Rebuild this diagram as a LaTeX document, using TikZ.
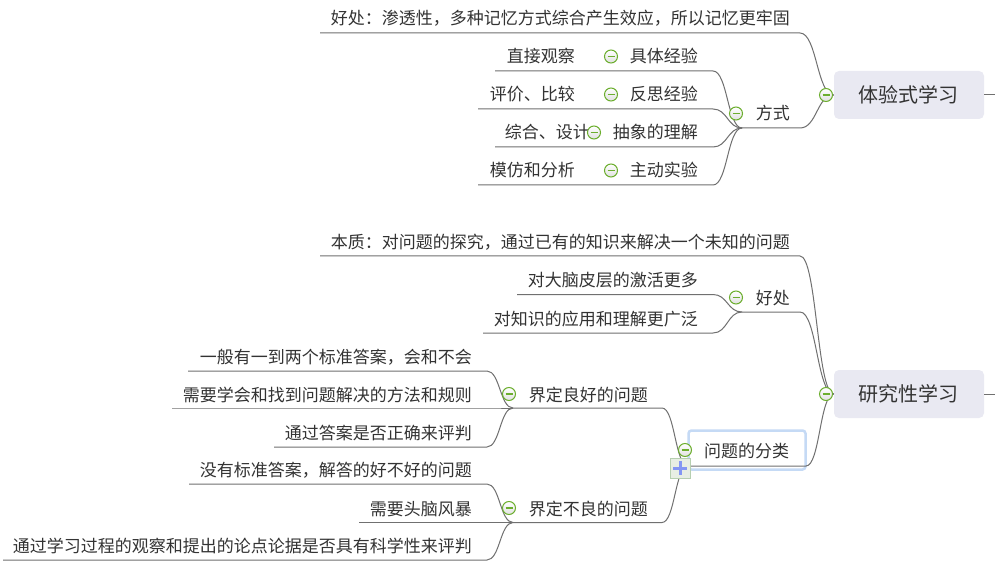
\documentclass[tikz,border=0pt]{standalone}
\usepackage{fontspec}
\setmainfont{Noto Sans CJK SC}
\usetikzlibrary{calc}
\definecolor{txtc}{HTML}{333333}
\definecolor{linec}{HTML}{707070}
\definecolor{greenc}{HTML}{6CAE2E}
\definecolor{rootfill}{HTML}{E9E9F2}
\definecolor{selc}{HTML}{C5DAF5}
\definecolor{plusc}{HTML}{8496F3}
\definecolor{plusfill}{HTML}{E7EEE4}
\definecolor{plusdraw}{HTML}{B6CFB0}
\begin{document}
\begin{tikzpicture}[x=1bp,y=-1bp,
  txt/.style={anchor=base east, inner sep=0pt, text=txtc, font=\fontsize{17bp}{20bp}\selectfont},
  roottxt/.style={anchor=base, inner sep=0pt, text=txtc, font=\fontsize{20bp}{24bp}\selectfont},
  seltxt/.style={anchor=base, inner sep=0pt, text=txtc, font=\fontsize{17bp}{20bp}\selectfont},
  ln/.style={draw=linec, line width=1bp},
  bz/.style={to path={let \p1=(\tikztostart), \p2=(\tikztotarget) in
     .. controls ({(\x1+\x2)/2},\y1) and ({(\x1+\x2)/2},\y2) .. (\tikztotarget)}},
  tog/.style={circle, minimum size=13bp, inner sep=0pt, draw=greenc, line width=1bp,
     top color=white, bottom color=black!12,
     path picture={\draw[greenc, line width=1.3bp]
       ([xshift=3bp]path picture bounding box.west) -- ([xshift=-3bp]path picture bounding box.east);}},
  rootbox/.style={rectangle, rounded corners=5bp, fill=rootfill, minimum width=150bp, minimum height=48bp, inner sep=0pt},
  selbox/.style={rectangle, rounded corners=3bp, draw=selc, fill=white, line width=2.5bp, minimum width=117bp, minimum height=39bp, inner sep=0pt},
  plusbox/.style={rectangle, minimum size=20bp, inner sep=0pt, draw=plusdraw, line width=1bp, fill=plusfill,
     path picture={\draw[plusc, line width=3bp]
       ([xshift=-7bp]path picture bounding box.center) -- ([xshift=7bp]path picture bounding box.center)
       ([yshift=-7bp]path picture bounding box.center) -- ([yshift=7bp]path picture bounding box.center);}}
]
\fill[white] (0,0) rectangle (995,568);
\useasboundingbox (0,0) rectangle (995,568);

% ================= 体验式学习 =================
\node[rootbox] (rA) at (909,95) {};
\node[roottxt] (rAt) at (908,102.6) {体验式学习};
\coordinate (rAo) at (995,95);
\draw[ln] (rA.east) -- (rAo);

\node[txt] (a1) at (790,24.5) {好处：渗透性，多种记忆方式综合产生效应，所以记忆更牢固};
\coordinate (a1L) at (320,33); \coordinate (a1R) at (800,33);
\draw[ln] (a1L) -- (a1R) to[bz] (rA.west);

\node[txt] (a2) at (790,120) {方式};
\coordinate (a2L) at (742,128); \coordinate (a2R) at (800,128);
\draw[ln] (a2L) -- (a2R) to[bz] (rA.west);

\node[txt] (a21) at (698,63) {具体经验};
\node[txt] (a211) at (575,63) {直接观察};
\coordinate (a211L) at (495,71); \coordinate (a211R) at (590,71);
\coordinate (a21L) at (604,71); \coordinate (a21R) at (713,71);
\draw[ln] (a211L) -- (a211R) -- (a21L) -- (a21R) to[bz] (a2L);

\node[txt] (a22) at (698,101) {反思经验};
\node[txt] (a221) at (575,101) {评价、比较};
\coordinate (a221L) at (478,109); \coordinate (a221R) at (590,109);
\coordinate (a22L) at (604,109); \coordinate (a22R) at (713,109);
\draw[ln] (a221L) -- (a221R) -- (a22L) -- (a22R) to[bz] (a2L);

\node[txt] (a23) at (698,139) {抽象的理解};
\node[txt] (a231) at (590,139) {综合、设计};
\coordinate (a231L) at (495,147); \coordinate (a231R) at (585,147);
\coordinate (a23L) at (600,147); \coordinate (a23R) at (713,147);
\draw[ln] (a231L) -- (a231R) -- (a23L) -- (a23R) to[bz] (a2L);

\node[txt] (a24) at (698,177) {主动实验};
\node[txt] (a241) at (575,177) {模仿和分析};
\coordinate (a241L) at (478,185); \coordinate (a241R) at (590,185);
\coordinate (a24L) at (604,185); \coordinate (a24R) at (713,185);
\draw[ln] (a241L) -- (a241R) -- (a24L) -- (a24R) to[bz] (a2L);

\node[tog] (cA) at (826,95) {};
\node[tog] (ca2) at (736,113.5) {};
\node[tog] (ca21) at (611,56.5) {};
\node[tog] (ca22) at (611,94.5) {};
\node[tog] (ca23) at (594,132.5) {};
\node[tog] (ca24) at (611,170.5) {};

% ================= 研究性学习 =================
\node[rootbox] (rB) at (909,394) {};
\node[roottxt] (rBt) at (908,401.6) {研究性学习};
\coordinate (rBo) at (995,394);
\draw[ln] (rB.east) -- (rBo);

\node[txt] (b1) at (790,248.5) {本质：对问题的探究，通过已有的知识来解决一个未知的问题};
\coordinate (b1L) at (320,256); \coordinate (b1R) at (800,256);
\draw[ln] (b1L) -- (b1R) to[bz] (rB.west);

\node[txt] (b2) at (790,304.5) {好处};
\coordinate (b2L) at (742,312); \coordinate (b2R) at (800,312);
\draw[ln] (b2L) -- (b2R) to[bz] (rB.west);

\node[txt] (b21) at (698,287) {对大脑皮层的激活更多};
\coordinate (b21L) at (517,294.5); \coordinate (b21R) at (713,294.5);
\draw[ln] (b21L) -- (b21R) to[bz] (b2L);

\node[txt] (b22) at (698,325.5) {对知识的应用和理解更广泛};
\coordinate (b22L) at (483,333); \coordinate (b22R) at (713,333);
\draw[ln] (b22L) -- (b22R) to[bz] (b2L);

\node[selbox] (b3box) at (747,450) {};
\node[seltxt] (b3) at (746.5,457.5) {问题的分类};
\coordinate (b3L) at (688,466); \coordinate (b3R) at (806,466);
\draw[ln] (b3L) -- (b3R) to[bz] (rB.west);

\node[txt] (b31) at (648,401) {界定良好的问题};
\coordinate (b31L) at (513,408); \coordinate (b31R) at (662,408);
\draw[ln] (b31L) -- (b31R) to[bz] (b3L);

\node[txt] (b311) at (472,363.5) {一般有一到两个标准答案，会和不会};
\coordinate (b311L) at (188,371); \coordinate (b311R) at (487,371);
\draw[ln] (b311L) -- (b311R) to[bz] (b31L);

\node[txt] (b312) at (472,401) {需要学会和找到问题解决的方法和规则};
\coordinate (b312L) at (172,408); \coordinate (b312R) at (490,408);
\draw[ln] (b312L) -- (b312R) -- (b31L);

\node[txt] (b313) at (472,439.5) {通过答案是否正确来评判};
\coordinate (b313L) at (274,447); \coordinate (b313R) at (487,447);
\draw[ln] (b313L) -- (b313R) to[bz] (b31L);

\node[txt] (b32) at (648,515) {界定不良的问题};
\coordinate (b32L) at (513,522.5); \coordinate (b32R) at (662,522.5);
\draw[ln] (b32L) -- (b32R) to[bz] (b3L);

\node[txt] (b321) at (472,476.5) {没有标准答案，解答的好不好的问题};
\coordinate (b321L) at (189,484); \coordinate (b321R) at (487,484);
\draw[ln] (b321L) -- (b321R) to[bz] (b32L);

\node[txt] (b322) at (472,515) {需要头脑风暴};
\coordinate (b322L) at (359,522.5); \coordinate (b322R) at (490,522.5);
\draw[ln] (b322L) -- (b322R) -- (b32L);

\node[txt] (b323) at (472,552.5) {通过学习过程的观察和提出的论点论据是否具有科学性来评判};
\coordinate (b323L) at (3,560); \coordinate (b323R) at (487,560);
\draw[ln] (b323L) -- (b323R) to[bz] (b32L);

\node[tog] (cB) at (826,394) {};
\node[tog] (cb2) at (736,297.5) {};
\node[tog] (cb3) at (685,450) {};
\node[tog] (cb31) at (509,394) {};
\node[tog] (cb32) at (509,508) {};
\node[plusbox] (pb3) at (680,468) {};
\end{tikzpicture}
\end{document}
